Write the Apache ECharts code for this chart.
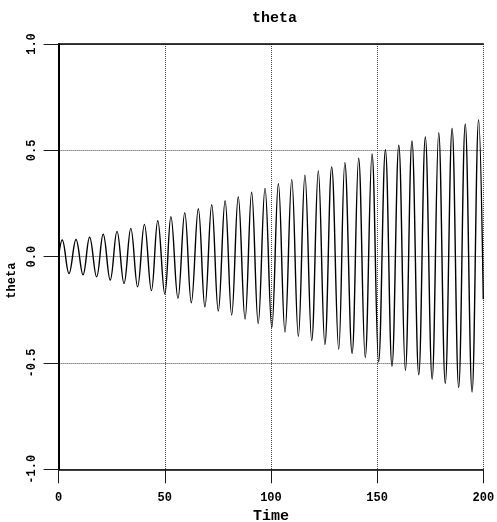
<!DOCTYPE html>
<html>
<head>
<meta charset="utf-8">
<script src="https://cdn.jsdelivr.net/npm/echarts@6/dist/echarts.min.js"></script>
<style>html,body{margin:0;padding:0;background:#fff}#c{width:497px;height:522px}</style>
</head>
<body>
<div id="c"></div>
<script>
// Values: local maxima and minima of theta over Time
var startPoint = [0, 0];
var endPoint = [200, -0.2];
var peakTime = [1.7, 8.2, 14.6, 21.0, 27.5, 34.0, 40.4, 46.7, 52.9, 59.4, 65.8, 72.1, 78.4, 84.6, 90.9, 97.2, 103.5, 109.8, 116.0, 122.3, 128.6, 134.8, 141.3, 147.6, 153.9, 160.2, 166.4, 172.7, 179.0, 185.3, 191.5, 197.8];
var peakTheta = [0.078, 0.081, 0.091, 0.105, 0.119, 0.133, 0.152, 0.169, 0.188, 0.207, 0.225, 0.244, 0.263, 0.282, 0.303, 0.321, 0.343, 0.362, 0.383, 0.403, 0.422, 0.442, 0.463, 0.483, 0.503, 0.524, 0.544, 0.563, 0.583, 0.604, 0.624, 0.644];
var troughTime = [4.9, 11.5, 17.9, 24.3, 30.8, 37.2, 43.7, 50.0, 56.2, 62.5, 68.9, 75.2, 81.5, 87.8, 94.0, 100.4, 106.6, 112.9, 119.2, 125.4, 131.9, 138.2, 144.4, 150.7, 157.0, 163.3, 169.6, 175.9, 182.1, 188.4, 194.7];
var troughTheta = [-0.079, -0.085, -0.095, -0.110, -0.126, -0.142, -0.160, -0.176, -0.196, -0.217, -0.236, -0.256, -0.275, -0.294, -0.314, -0.333, -0.355, -0.374, -0.394, -0.413, -0.435, -0.455, -0.474, -0.495, -0.515, -0.535, -0.556, -0.576, -0.596, -0.615, -0.637];
var xTicks = [0, 50, 100, 150, 200];
var yTicks = [-1.0, -0.5, 0.0, 0.5, 1.0];

var pts = [startPoint];
peakTime.forEach(function (t, i) { pts.push([t, peakTheta[i]]); });
troughTime.forEach(function (t, i) { pts.push([t, troughTheta[i]]); });
pts.push(endPoint);
pts.sort(function (a, b) { return a[0] - b[0]; });

var FONT = 'Liberation Mono';
var chart = echarts.init(document.getElementById('c'));
chart.setOption({
  animation: false,
  title: {
    text: 'theta', left: 247, top: 6,
    textStyle: {fontFamily: FONT, fontWeight: 'bold', fontSize: 15, color: '#000'}
  },
  grid: {left: 58.6, right: 13.7, top: 44, bottom: 52.7, outerBoundsMode: 'none'},
  xAxis: [{
    type: 'value', min: xTicks[0], max: xTicks[xTicks.length - 1], interval: 50,
    name: 'Time', nameLocation: 'middle', nameGap: 35,
    nameTextStyle: {fontFamily: FONT, fontWeight: 'bold', fontSize: 15, color: '#000'},
    axisLine: {show: true, onZero: false, lineStyle: {color: '#000', width: 1.5}},
    axisTick: {show: true, length: 14, lineStyle: {color: '#1a1a1a', width: 1}},
    axisLabel: {margin: 23, fontFamily: FONT, fontWeight: 'bold', fontSize: 12, color: '#000',
      formatter: function (v) { return String(v); }},
    splitLine: {show: true, lineStyle: {color: '#444', width: 1, type: [1, 1]}}
  }, {
    type: 'value', position: 'top', min: xTicks[0], max: xTicks[xTicks.length - 1],
    axisLine: {show: true, onZero: false, lineStyle: {color: '#000', width: 1.5}},
    axisTick: {show: false}, axisLabel: {show: false}, splitLine: {show: false}
  }],
  yAxis: {
    type: 'value', min: yTicks[0], max: yTicks[yTicks.length - 1], interval: 0.5,
    name: 'theta', nameLocation: 'middle', nameGap: 36, nameRotate: 90,
    nameTextStyle: {fontFamily: FONT, fontWeight: 'bold', fontSize: 12, color: '#000', padding: [0, 48, 0, 0]},
    axisLine: {show: true, onZero: false, lineStyle: {color: '#000', width: 2}},
    axisTick: {show: true, length: 15, lineStyle: {color: '#1a1a1a', width: 1}},
    axisLabel: {margin: 21, rotate: 90, fontFamily: FONT, fontWeight: 'bold', fontSize: 12, color: '#000',
      formatter: function (v) { return v.toFixed(1); }},
    splitLine: {show: true, lineStyle: {color: '#444', width: 1, type: [1, 1]}}
  },
  series: [{
    type: 'line', data: pts, showSymbol: false, symbol: 'none', smooth: 0.4,
    lineStyle: {color: '#000', width: 1.4}, xAxisIndex: 0
  }]
});
</script>
</body>
</html>
